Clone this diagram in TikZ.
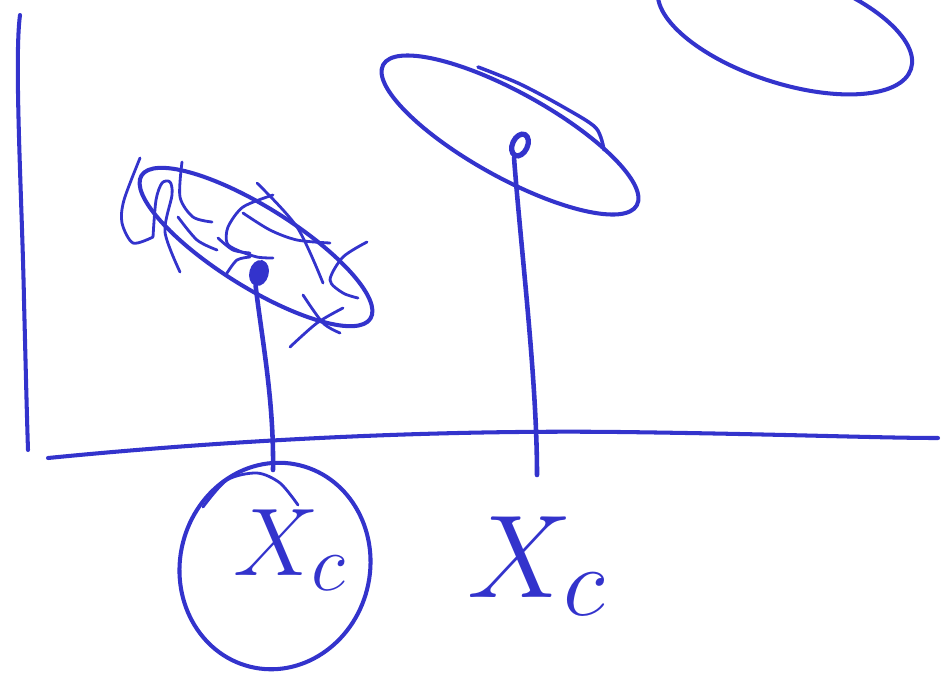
\documentclass[tikz,border=0pt]{standalone}
\usepackage{amsmath,amssymb}
\usepackage{xcolor}
\usepackage{graphicx}
\usepackage{tikz}
\usetikzlibrary{shapes.geometric, positioning, calc}
\definecolor{ink}{RGB}{51,51,204}
\tikzset{
  pen/.style      = {draw=ink, line width=2.3pt, line cap=round, line join=round},
  thinpen/.style  = {draw=ink, line width=1.6pt, line cap=round, line join=round},
  oval/.style     = {ellipse, pen, inner sep=0pt},
  blob/.style     = {ellipse, draw=ink, line width=3pt, inner sep=0pt},
  lbl/.style      = {text=ink, inner sep=0pt, font=\Huge},
  link/.style     = {pen, line width=2.6pt},
}

\begin{document}
\begin{tikzpicture}[x=0.02cm, y=-0.02cm]

    \useasboundingbox (0,0) rectangle (943,674);
    \clip (0,0) rectangle (943,674);

    %% Axes
    \draw[pen] (20,15) .. controls (14,60) and (22,200) .. (24,300)
               .. controls (26,380) and (27,420) .. (28,450);
    \draw[pen] (48,458) .. controls (250,438) and (450,430) .. (620,432)
               .. controls (780,434) and (880,438) .. (938,438);

    %% Ovals
    \node[oval, rotate=-18, minimum width=5.3cm, minimum height=2.2cm] (ovr) at (785,28) {};
    \node[oval, rotate=-29, minimum width=5.8cm, minimum height=1.7cm] (ovm) at (510,135) {};
    \node[oval, rotate=-32, minimum width=5.4cm, minimum height=1.6cm] (ovl) at (256,247) {};

    %% Extra stroke in the middle oval
    \draw[thinpen, line width=2pt] plot[smooth] coordinates {(478,67) (520,84) (565,108) (596,128) (604,150)};

    %% Scribbles in the left oval
    \draw[thinpen] plot[smooth] coordinates {(140,158) (124,200) (122,223) (133,243) (153,237)};
    \draw[thinpen] plot[smooth] coordinates {(153,237) (156,200) (162,183) (170,182) (172,195) (165,232) (180,272)};
    \draw[thinpen] plot[smooth] coordinates {(182,162) (180,197) (193,217) (212,222)};
    \draw[thinpen] plot[smooth] coordinates {(178,217) (197,240) (217,250)};
    \draw[thinpen] plot[smooth] coordinates {(273,195) (243,207) (228,227) (227,243) (237,250) (257,257) (273,258)};
    \draw[thinpen] plot[smooth] coordinates {(257,183) (297,227) (323,283)};
    \draw[thinpen] plot[smooth] coordinates {(243,213) (270,230) (297,240) (330,243)};
    \draw[thinpen] plot[smooth] coordinates {(367,242) (343,257) (330,280) (343,293) (358,298)};
    \draw[thinpen] plot[smooth] coordinates {(303,295) (323,323) (340,333)};
    \draw[thinpen] plot[smooth] coordinates {(343,308) (317,323) (290,347)};
    \draw[thinpen] plot[smooth] coordinates {(218,238) (233,250) (250,253)};
    \draw[thinpen] plot[smooth] coordinates {(227,273) (237,260) (250,257)};

    %% Points
    \node[blob, fill=ink, minimum width=0.28cm, minimum height=0.42cm, rotate=-15] (dl) at (259,273) {};
    \node[blob, minimum width=0.30cm, minimum height=0.46cm, rotate=-25] (dm) at (520,145) {};

    %% Labels
    \node[oval, rotate=-14, minimum width=3.8cm, minimum height=4.15cm] (cl) at (275,566) {};
    \node[lbl] (xl) at (290,550) {\scalebox{2.2}{$X_c$}};
    \node[lbl] (xr) at (537,566) {\scalebox{2.7}{$X_c$}};

    \draw[thinpen] plot[smooth] coordinates {(203,507) (227,480) (257,473) (280,483) (298,505)};

    %% Connectors
    \coordinate (el) at (273,470);
    \coordinate (er) at (537,475);
    \draw[link] (dl.south) .. controls (262,340) and (274,400) .. (el);
    \draw[link] (dm.south) .. controls (521,250) and (537,380) .. (er);

\end{tikzpicture}
\end{document}
